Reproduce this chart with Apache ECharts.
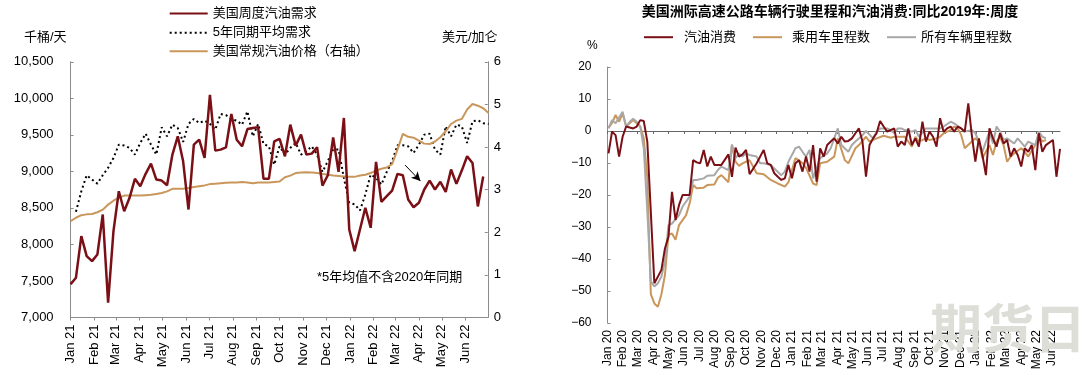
<!DOCTYPE html>
<html><head><meta charset="utf-8">
<script src="https://cdn.jsdelivr.net/npm/echarts@6/dist/echarts.min.js"></script>
<style>html,body{margin:0;padding:0;background:#fff}#c{width:1080px;height:380px}</style>
</head><body><div id="c"></div>
<script>
// ---------- LEFT CHART DATA (weekly, Fridays from 2021-01-01) ----------
const leftAxisStart = '2021-01-01', leftAxisEnd = '2022-06-30', leftFirstWeek = '2021-01-01';
const demand = [7454,7545,8114,7840,7772,7863,8410,7204,8182,8728,
  8455,8638,8898,8797,8966,9107,8888,8874,8810,9230,
  9480,9138,8478,9366,9434,9184,10049,9284,9298,9330,
  9786,9434,9343,9580,9594,9603,8898,8898,9411,9444,
  9207,9640,9353,9503,9230,9243,9330,8806,8947,9466,
  8993,9731,8205,7909,8205,8502,8228,9130,8583,8660,
  8738,8966,8947,8615,8510,8570,8752,8874,8752,8857,
  8720,9025,8829,9011,9207,9116,8520,8930,null];
const avg5y = [null,8447,8728,8947,8888,8833,8947,9048,9184,9366,
  9353,9321,9230,9389,9516,9366,9230,9603,9480,9640,
  9594,9403,9649,9717,9662,9694,9649,9571,9786,9770,
  9717,9694,9640,9821,9480,9649,9376,9343,9093,9343,
  9230,9321,9389,9230,9275,9343,9230,8993,9139,9300,
  9300,8911,8570,8550,8465,8683,8956,8911,8820,8993,
  9138,9357,9357,9343,9252,9366,9503,9516,9298,9230,
  9617,9480,9640,9617,9389,9685,9700,9660,9650];
const price = [2.26,2.34,2.40,2.42,2.43,2.47,2.53,2.65,2.74,2.81,
  2.86,2.86,2.86,2.86,2.87,2.88,2.90,2.92,2.96,3.02,
  3.02,3.02,3.04,3.06,3.08,3.10,3.13,3.14,3.15,3.16,
  3.17,3.17,3.18,3.17,3.15,3.17,3.17,3.17,3.18,3.19,
  3.29,3.33,3.39,3.40,3.41,3.40,3.39,3.37,3.35,3.33,
  3.32,3.31,3.30,3.30,3.33,3.35,3.39,3.45,3.49,3.52,
  3.60,3.94,4.31,4.24,4.22,4.15,4.08,4.07,4.13,4.23,
  4.37,4.54,4.62,4.66,4.88,5.01,4.97,4.91,4.80];
const arrowFrom = ['2022-03-14', 9086], arrowTo = ['2022-04-03', 8867];

// ---------- RIGHT CHART DATA (weekly, from 2020-01-03), % vs 2019 ----------
const rightAxisStart = '2020-01-01', rightAxisEnd = '2022-06-17', rightFirstWeek = '2020-01-03';
const gasCons = [-7.0,-0.2,-1.3,-8.0,-1.8,1.4,null,0.8,1.4,3.4,
  3.1,-3.3,null,-47.6,-45.5,-43.4,-36.7,-33.0,-19.0,-27.8,
  -23.1,-20.0,-20.0,-20.0,-9.1,-9.8,-10.1,-5.9,-11.1,-8.0,
  -10.6,-10.6,-10.6,null,-7.3,-14.3,-5.2,-8.0,-7.3,-5.9,
  -13.5,null,-10.1,null,-5.9,-10.1,-10.6,-13.2,-14.3,-15.3,
  -14.8,-10.6,-14.8,-10.1,-9.1,-12.7,-8.0,-12.7,-4.4,-15.8,
  -5.4,-8.0,-4.4,-3.3,-2.3,-3.9,-1.8,-3.3,-3.1,-2.3,
  -0.7,0.8,-3.3,-14.3,-4.4,-2.3,-0.7,3.1,1.4,-0.2,
  null,0.8,-4.9,-3.3,-4.4,0.8,-4.4,-2.3,-4.9,2.9,
  -3.3,-0.2,-1.8,-4.9,4.0,-0.2,0.8,1.4,-0.2,1.4,
  0.8,-0.2,8.6,-1.3,-9.6,-2.3,-7.5,-13.8,0.8,-2.3,
  -4.9,-0.7,-3.9,-2.8,-8.0,-5.4,-7.5,-11.1,-5.4,-6.5,
  -4.4,-12.2,-0.7,-6.5,-4.4,null,-2.8,-14.3,-5.6];
const carVMT = [1.0,2.5,5.0,2.9,5.5,1.4,null,3.4,2.4,1.4,
  -2.3,-14.8,-51.0,-53.9,-54.9,-51.0,-45.0,-32.5,-32.0,-34.0,
  -29.4,null,-26.3,-22.6,-16.9,-17.9,null,-17.7,-16.9,null,
  -16.7,-14.6,-13.8,null,-16.0,-4.4,-9.6,-10.9,-10.1,-9.6,
  -9.1,null,-13.2,null,-13.5,null,-15.3,null,-16.4,null,
  -17.4,-16.0,-12.2,-8.5,null,-10.0,-11.5,null,-16.4,-16.9,
  -10.1,null,-9.6,null,-8.0,-2.3,null,-9.1,-10.1,null,
  -5.4,-4.4,null,-1.8,-3.3,null,-2.3,null,-1.5,null,
  -2.1,-1.8,null,-1.8,-1.8,null,-4.9,-1.8,-3.3,null,
  -2.3,-2.8,null,-2.3,-1.8,-0.7,null,0.3,1.4,0.8,
  -1.3,-5.4,null,-3.3,-2.3,-3.3,-8.5,null,-4.4,-7.5,
  -3.3,-1.8,-4.4,-9.6,-8.0,-7.0,null,-5.4,-6.5,-8.0,
  null,-4.4,-1.3,-3.3,-2.8];
const allVMT = [0.8,3.4,2.4,null,6.0,1.4,2.9,3.8,2.9,1.4,
  -5.4,-25.0,-47.0,-48.6,-47.6,-45.5,-40.8,-29.4,-28.9,null,
  -26.3,-23.6,null,-20.5,-15.3,-15.3,null,-14.8,-14.0,null,
  -13.8,-12.2,-11.1,null,-12.2,-4.2,-8.5,-7.0,-8.0,-7.0,
  -7.5,null,-8.0,-10.1,-10.1,null,-10.6,-11.7,null,-13.8,
  -12.7,-9.6,null,-5.4,-4.9,-6.5,-8.0,-5.9,-14.8,-11.7,
  -8.5,null,-7.0,-5.4,null,0.8,-4.4,null,-6.5,-4.4,
  -3.3,null,-1.3,0.0,null,-2.3,-0.2,0.8,null,0.8,
  0.3,-0.7,0.8,0.8,0.3,null,-0.2,0.3,-1.8,null,
  0.8,0.8,null,0.8,0.8,1.4,null,2.9,2.4,null,
  0.8,-0.2,null,0.3,-0.7,-3.3,-6.5,-3.3,-0.2,-3.9,
  1.4,-0.2,-2.8,-2.3,null,-3.9,-2.3,null,-4.9,-3.3,
  null,-4.4,-0.2,-1.8,-2.3];

const monthNames = ['Jan','Feb','Mar','Apr','May','Jun','Jul','Aug','Sep','Oct','Nov','Dec'];
const leftTicks = [7000,10500,500], rightPriceTicks = [0,6,1], rightPctTicks = [-60,20,10];

// ---------- helpers ----------
const DAY = 86400000;
function days(a, b) { return Math.round((Date.parse(b) - Date.parse(a)) / DAY); }
function dayCats(start, end) {
  const n = days(start, end), out = [];
  for (let i = 0; i <= n; i++) out.push(new Date(Date.parse(start) + i * DAY).toISOString().slice(0, 10));
  return out;
}
function weekly(arr, first, axisStart) {
  const off = days(axisStart, first);
  return arr.map((v, i) => [off + 7 * i, v]).filter(p => p[1] !== null);
}
const isMonthStart = (idx, val) => val.slice(8) === '01';
const monthLabel = val => monthNames[+val.slice(5, 7) - 1] + ' ' + val.slice(2, 4);
const leftCats = dayCats(leftAxisStart, leftAxisEnd);
const rightCats = dayCats(rightAxisStart, rightAxisEnd);

const FONT = "'Liberation Sans', 'Noto Sans CJK SC', sans-serif";
const AX = '#8c8c8c';
const RED = '#7a1016', TAN = '#c9975b', GREY = '#a8a8a8';

const chart = echarts.init(document.getElementById('c'), null, { renderer: 'canvas' });

function legendAt(name, left, top, w, pad) {
  return { data: [name], left: left, top: top, orient: 'horizontal', itemWidth: w, itemHeight: 14,
    selectedMode: false, padding: 0,
    itemStyle: { opacity: 0 },
    textStyle: { fontSize: 13, color: '#000', fontFamily: FONT, padding: [0, 0, 0, pad] } };
}

chart.setOption({
  animation: false,
  textStyle: { fontFamily: FONT },
  grid: [
    { left: 70.6, top: 61.8, width: 417.2, height: 255.7 },
    { left: 607.5, top: 67, width: 452.5, height: 256 }
  ],
  legend: [
    legendAt('美国周度汽油需求', 168.7, 7, 38, 0),
    legendAt('5年同期平均需求', 168.7, 26.3, 38, 0),
    legendAt('美国常规汽油价格（右轴）', 168.7, 44.7, 38, 0),
    legendAt('汽油消费', 643, 30.7, 29, 6),
    legendAt('乘用车里程数', 752, 30.7, 29, 5),
    legendAt('所有车辆里程数', 886, 30.7, 29, 0)
  ],
  xAxis: [
    { type: 'category', gridIndex: 0, data: leftCats, boundaryGap: false,
      axisLine: { lineStyle: { color: AX, width: 1 } },
      axisTick: { interval: isMonthStart, length: 3, lineStyle: { color: AX } },
      axisLabel: { interval: isMonthStart, formatter: monthLabel, rotate: 90, margin: 7,
        fontSize: 13, color: '#000', fontFamily: FONT },
      splitLine: { show: false } },
    { type: 'category', gridIndex: 1, data: rightCats, boundaryGap: false,
      axisLine: { show: false, onZero: false }, axisTick: { show: false },
      axisLabel: { interval: isMonthStart, formatter: monthLabel, rotate: 90, margin: 7,
        fontSize: 12, color: '#000', fontFamily: FONT },
      splitLine: { show: false } },
    { type: 'category', gridIndex: 1, data: rightCats, boundaryGap: false,
      axisLine: { show: true, onZero: true, lineStyle: { color: '#666', width: 1 } },
      axisTick: { show: true, inside: true, interval: isMonthStart, length: 3, lineStyle: { color: '#666' } },
      axisLabel: { show: false }, splitLine: { show: false } }
  ],
  yAxis: [
    { type: 'value', gridIndex: 0, min: leftTicks[0], max: leftTicks[1], interval: leftTicks[2],
      axisLine: { show: true, lineStyle: { color: AX } },
      axisTick: { show: true, inside: true, length: 3, lineStyle: { color: AX } },
      axisLabel: { margin: 17, fontSize: 13, color: '#000', fontFamily: FONT,
        formatter: v => v.toLocaleString('en-US') },
      splitLine: { show: false } },
    { type: 'value', gridIndex: 0, position: 'right', min: rightPriceTicks[0], max: rightPriceTicks[1], interval: rightPriceTicks[2],
      axisLine: { show: true, lineStyle: { color: AX } },
      axisTick: { show: true, inside: true, length: 3, lineStyle: { color: AX } },
      axisLabel: { margin: 6, fontSize: 13, color: '#000', fontFamily: FONT },
      splitLine: { show: false } },
    { type: 'value', gridIndex: 1, min: rightPctTicks[0], max: rightPctTicks[1], interval: rightPctTicks[2],
      axisLine: { show: true, lineStyle: { color: AX } },
      axisTick: { show: true, inside: true, length: 3, lineStyle: { color: AX } },
      axisLabel: { margin: 16, fontSize: 12, color: '#000', fontFamily: FONT,
        formatter: v => String(v).replace('-', '\u2212') },
      splitLine: { show: false } }
  ],
  series: [
    { name: '5年同期平均需求', type: 'line', xAxisIndex: 0, yAxisIndex: 0, symbol: 'none', z: 3,
      data: weekly(avg5y, leftFirstWeek, leftAxisStart),
      itemStyle: { color: '#000' },
      lineStyle: { color: '#000', width: 2, type: [2, 3] } },
    { name: '美国常规汽油价格（右轴）', type: 'line', xAxisIndex: 0, yAxisIndex: 1, symbol: 'none', z: 3,
      data: weekly(price, leftFirstWeek, leftAxisStart),
      itemStyle: { color: TAN }, lineStyle: { color: TAN, width: 2 } },
    { name: '美国周度汽油需求', type: 'line', xAxisIndex: 0, yAxisIndex: 0, symbol: 'none', z: 4,
      data: weekly(demand, leftFirstWeek, leftAxisStart),
      itemStyle: { color: RED }, lineStyle: { color: RED, width: 2.5 },
      markLine: { silent: true, symbol: ['none', 'arrow'], symbolSize: [7, 9], animation: false,
        label: { show: false }, lineStyle: { color: '#000', width: 1, type: 'solid' },
        data: [[{ coord: [days(leftAxisStart, arrowFrom[0]), arrowFrom[1]] },
                { coord: [days(leftAxisStart, arrowTo[0]), arrowTo[1]] }]] } },
    { name: '乘用车里程数', type: 'line', xAxisIndex: 1, yAxisIndex: 2, symbol: 'none', z: 3,
      data: weekly(carVMT, rightFirstWeek, rightAxisStart),
      itemStyle: { color: TAN }, lineStyle: { color: TAN, width: 2 } },
    { name: '所有车辆里程数', type: 'line', xAxisIndex: 1, yAxisIndex: 2, symbol: 'none', z: 4,
      data: weekly(allVMT, rightFirstWeek, rightAxisStart),
      itemStyle: { color: GREY }, lineStyle: { color: GREY, width: 2 } },
    { name: '汽油消费', type: 'line', xAxisIndex: 1, yAxisIndex: 2, symbol: 'none', z: 5,
      data: weekly(gasCons, rightFirstWeek, rightAxisStart),
      itemStyle: { color: RED }, lineStyle: { color: RED, width: 2 } }
  ],
  graphic: [
    { type: 'text', left: 24, top: 31, style: { text: '千桶/天', fill: '#000', font: '13px ' + FONT } },
    { type: 'text', left: 442, top: 31, style: { text: '美元/加仑', fill: '#000', font: '13px ' + FONT } },
    { type: 'text', left: 317, top: 271, style: { text: '*5年均值不含2020年同期', fill: '#000', font: '13px ' + FONT } },
    { type: 'text', left: 587, top: 40, style: { text: '%', fill: '#000', font: '12px ' + FONT } },
    { type: 'text', x: 830, y: 12, style: { text: '美国洲际高速公路车辆行驶里程和汽油消费:同比2019年:周度',
        fill: '#000', font: 'bold 14px ' + FONT, textAlign: 'center', textVerticalAlign: 'middle' } },
    { type: 'text', left: 930, top: 302, z: 100, style: { text: '期货日报', fill: '#deded8',
        font: 'bold 52px "Noto Sans CJK SC", sans-serif' } }
  ]
});
</script></body></html>
